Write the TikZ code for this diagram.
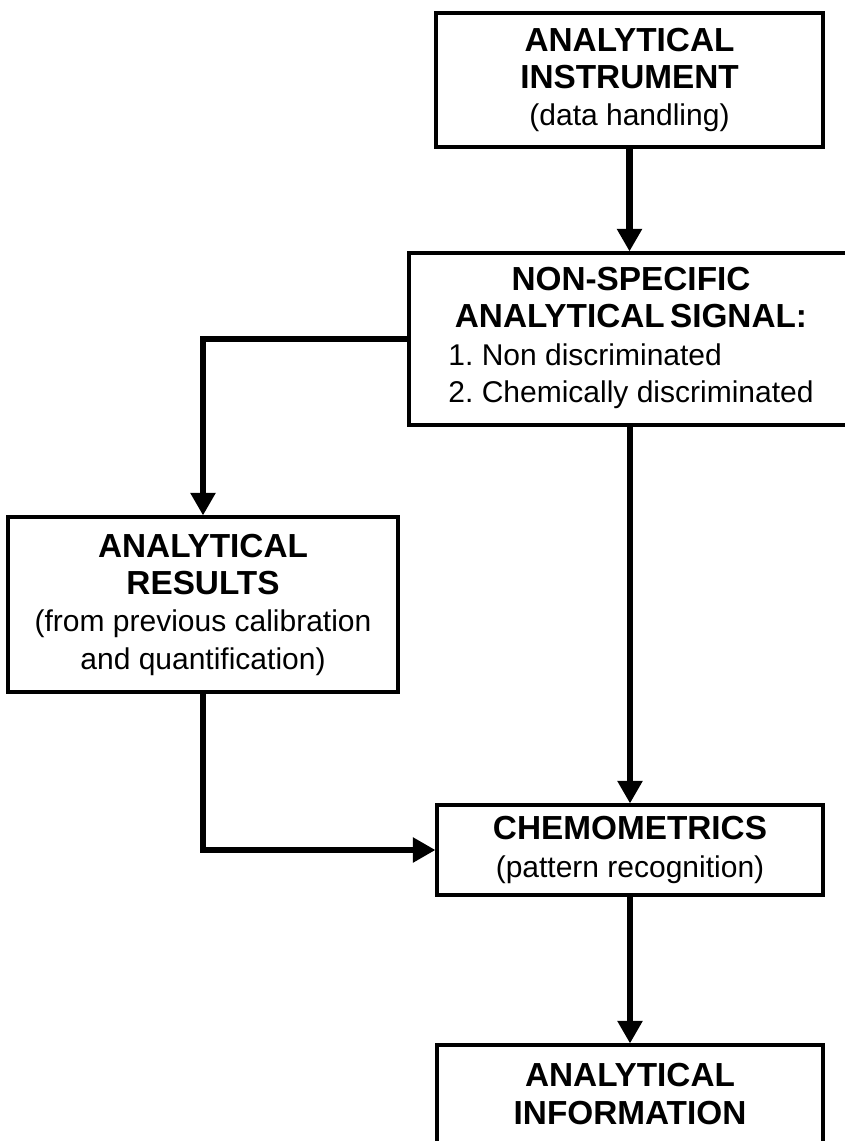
\documentclass[tikz,border=0pt]{standalone}
\usepackage{fontspec}
\setmainfont{Liberation Sans}
\usetikzlibrary{arrows.meta,positioning}
\frenchspacing
\newcommand{\hd}[1]{{\fontsize{25}{28}\selectfont\bfseries #1}}

\begin{document}
\begin{tikzpicture}[
    x=0.75pt, y=-0.75pt,
    box/.style={rectangle, draw, line width=2.3pt, inner sep=0pt, align=center,
      font=\fontsize{22.5}{28}\selectfont},
    arrow/.style={-{Triangle[length=17pt,width=18pt]}, line width=5pt}
  ]
    \useasboundingbox (0,0) rectangle (845,1141);

    \node[box, minimum width=290.25pt, minimum height=100.5pt] (instr) at (629.5, 80)
      {\hd{ANALYTICAL}\\\hd{INSTRUMENT}\\(data handling)};
    \node[box, minimum width=333pt, minimum height=129pt] (signal) at (631, 339)
      {\fontsize{22.5}{28}\selectfont
       \begin{tabular}{@{}l@{}}
         \multicolumn{1}{@{}c@{}}{\hd{NON-SPECIFIC}}\\
         \multicolumn{1}{@{}c@{}}{\hd{ANALYTICAL\hspace{-3pt} SIGNAL:}}\\
         1. Non discriminated\\
         2. Chemically discriminated
       \end{tabular}};
    \node[box, minimum width=292.5pt, minimum height=131.25pt] (results) at (203, 604.5)
      {\hd{ANALYTICAL}\\\hd{RESULTS}\\(from previous calibration\\and quantification)};
    \node[box, minimum width=289.5pt, minimum height=67.5pt] (chemo) at (630, 850)
      {\hd{CHEMOMETRICS}\\(pattern recognition)};
    \node[box, minimum width=289.5pt, minimum height=73.5pt] (info) at (630, 1094)
      {\hd{ANALYTICAL}\\\hd{INFORMATION}};

    \draw[arrow] (instr.south) -- (instr.south |- signal.north);
    \draw[arrow] (signal.west) -| (results.north);
    \draw[arrow] (chemo.north |- signal.south) -- (chemo.north);
    \draw[arrow] (results.south) |- (chemo.west);
    \draw[arrow] (chemo.south) -- (info.north);
  \end{tikzpicture}
\end{document}
